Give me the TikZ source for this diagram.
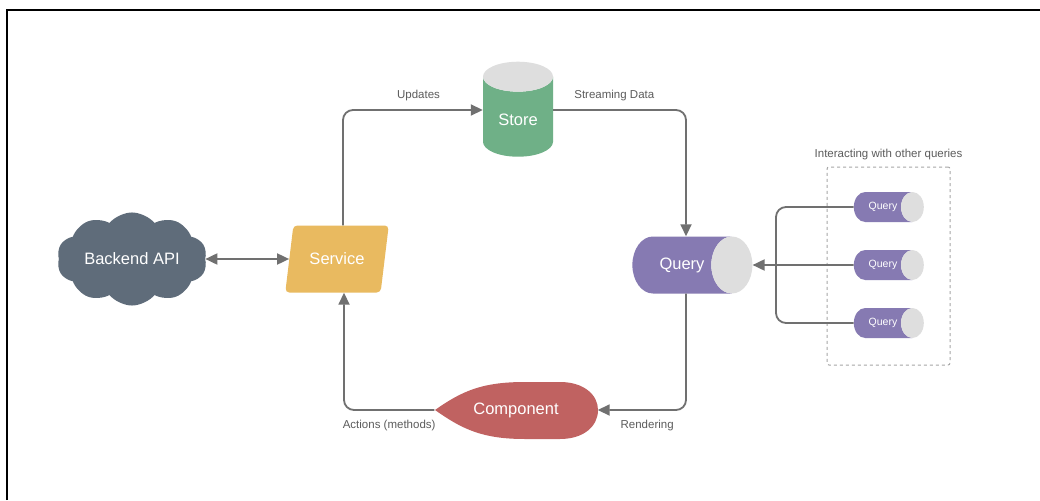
\documentclass[tikz,border=0pt]{standalone}
\usepackage{fontspec}
\setmainfont{Liberation Sans}
\usetikzlibrary{shapes.geometric,shapes.symbols,arrows.meta,positioning}

\definecolor{slate}{RGB}{95,108,122}
\definecolor{mustard}{RGB}{233,186,96}
\definecolor{storegreen}{RGB}{111,176,135}
\definecolor{querypurple}{RGB}{134,122,178}
\definecolor{compred}{RGB}{192,98,97}
\definecolor{endgray}{RGB}{222,222,222}
\definecolor{wire}{RGB}{112,112,112}
\definecolor{labelgray}{RGB}{92,92,92}

\tikzset{
  bigtext/.style={text=white, font=\fontsize{16.5}{18}\selectfont},
  edgelabel/.style={text=labelgray, font=\fontsize{11.5}{13}\selectfont},
  wireline/.style={draw=wire, line width=1.8pt, rounded corners=10pt},
  flowarrow/.style={-{Triangle[length=12pt,width=11pt]}},
  querycyl/.style={cylinder, cylinder uses custom fill, cylinder body fill=querypurple,
    cylinder end fill=endgray, draw=none, inner sep=0pt},
}

\begin{document}
\begin{tikzpicture}[x=1pt,y=-1pt]
\fill[white] (0,0) rectangle (1040,500);
\useasboundingbox (0,0) rectangle (1040,500);
\draw[line width=2pt] (7,500) -- (7,10) -- (1040,10); % frame of the screenshot

% main flow
\node[cloud, cloud puffs=10, cloud puff arc=100, aspect=1.9, fill=slate, minimum width=150pt,
  minimum height=80pt, bigtext] (api) at (132,259) {Backend API};
\node[trapezium, trapezium left angle=73, trapezium right angle=107, trapezium stretches=true,
  rounded corners=4pt, fill=mustard, minimum width=104pt, minimum height=67pt,
  bigtext] (svc) at (337,259) {Service};
\node[cylinder, shape border rotate=90, shape aspect=0.65, cylinder uses custom fill,
  cylinder body fill=storegreen, cylinder end fill=endgray, minimum width=70pt,
  minimum height=95pt, bigtext] (store) at (518,120) {Store};
\node[querycyl, shape aspect=2.75, minimum width=57pt, minimum height=120pt,
  bigtext] (query) at (682,265) {Query};

\fill[compred] (435,410) .. controls (462,391) and (482,382) .. (525,382) -- (560,382)
  .. controls (584,382) and (598,395) .. (598,410) .. controls (598,426) and (584,439) .. (560,439)
  -- (525,439) .. controls (482,439) and (462,429) .. (435,410) -- cycle;
\node[minimum width=163pt, minimum height=57pt, inner sep=0pt, bigtext] (comp) at (516,410) {Component};

\draw[wireline, {Triangle[length=12pt,width=11pt]}-{Triangle[length=12pt,width=11pt]}] (api) -- (svc);
\draw[wireline, flowarrow] ([xshift=6pt]svc.north) |- ([yshift=10pt]store.west)
  node[edgelabel, pos=0.77, above=5pt] {Updates};
\draw[wireline, flowarrow] ([yshift=10pt]store.east) -| ([xshift=4pt]query.north)
  node[edgelabel, pos=0.23, above=5pt] {Streaming Data};
\draw[wireline, flowarrow] ([xshift=4pt]query.south) |- (comp.east)
  node[edgelabel, pos=0.72, below=6pt] {Rendering};
\draw[wireline, flowarrow] (comp.west) -| ([xshift=7pt]svc.south)
  node[edgelabel, pos=0.25, below=6pt] {Actions (methods)};

% other queries
\node[draw=gray!70, dashed, line width=1pt, rounded corners=2pt, minimum width=123pt,
  minimum height=198pt] (group) at (888.5,266) {};
\node[edgelabel, above=3pt of group] {Interacting with other queries};
\foreach \i/\y in {1/207,2/265,3/323}
  \node[querycyl, shape aspect=2.4, minimum width=30pt, minimum height=70pt, text=white,
    font=\fontsize{10.5}{12}\selectfont] (q\i) at (883,\y) {Query};
\coordinate (merge) at (776,265);
\draw[wireline] (q1.west) -| (merge);
\draw[wireline] (q3.west) -| (merge);
\draw[wireline, flowarrow] (q2.west) -- (query.east);
\end{tikzpicture}
\end{document}
